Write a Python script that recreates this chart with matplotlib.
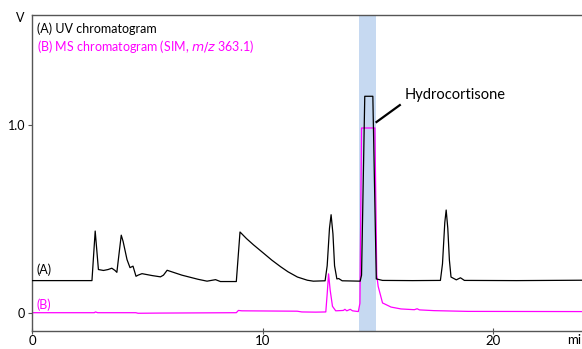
import matplotlib
matplotlib.use("Agg")
import matplotlib.pyplot as plt

plt.rcParams['font.family'] = ['Lato', 'DejaVu Sans']

#Trace (A) UV chromatogram (min, V)
uv_time = [0, 2.6, 2.74, 2.88, 3.1, 3.3, 3.46, 3.6, 3.68, 3.78, 3.87, 3.95, 4.12, 4.25, 4.38,
           4.51, 4.6, 4.77, 5.2, 5.57, 5.7, 5.86, 6.5, 7.2, 7.59, 7.96, 8.17, 8.86, 9.02,
           9.3, 9.6, 10.06, 10.4, 10.78, 11.1, 11.51, 11.94, 12.2, 12.71, 12.8, 12.9, 12.97,
           13.05, 13.12, 13.22, 13.3, 13.45, 14.23, 14.29, 14.43, 14.78, 14.93, 15.2, 16.5,
           17.71, 17.8, 17.9, 17.96, 18.03, 18.1, 18.17, 18.4, 18.58, 18.75, 21.0, 23.85]
uv_volt = [0.171, 0.171, 0.435, 0.23, 0.225, 0.23, 0.237, 0.225, 0.215, 0.32, 0.413, 0.38, 0.283, 0.24, 0.248,
           0.194, 0.2, 0.208, 0.198, 0.191, 0.2, 0.226, 0.2, 0.178, 0.168, 0.176, 0.166, 0.166, 0.43,
           0.395, 0.362, 0.315, 0.28, 0.245, 0.218, 0.19, 0.173, 0.168, 0.17, 0.25, 0.45, 0.522,
           0.42, 0.25, 0.18, 0.182, 0.17, 0.168, 0.2, 1.153, 1.153, 0.18, 0.172, 0.171,
           0.172, 0.26, 0.48, 0.547, 0.45, 0.28, 0.19, 0.175, 0.186, 0.172, 0.171, 0.173]

#Trace (B) MS chromatogram, SIM m/z 363.1
ms_time = [0, 2.7, 2.75, 2.85, 4.5, 4.6, 5.5, 8.86, 8.95, 9.1, 11.5, 11.7, 12.3, 12.74, 12.8,
           12.86, 12.93, 13.03, 13.17, 13.5, 13.57, 13.65, 13.8, 13.9, 14.15, 14.22, 14.29,
           14.87, 14.95, 15.01, 15.2, 15.57, 16.0, 16.58, 16.7, 16.8, 17.43, 18.9, 23.85]
ms_volt = [0.0, 0.0, 0.004, 0.0, 0.0, -0.003, -0.002, 0.0, 0.012, 0.01, 0.008, 0.004, 0.003, 0.004, 0.1,
           0.207, 0.12, 0.034, 0.01, 0.012, 0.018, 0.01, 0.018, 0.01, 0.006, 0.05, 0.984,
           0.984, 0.2, 0.141, 0.052, 0.03, 0.02, 0.016, 0.021, 0.015, 0.011, 0.007, 0.006]

#Hydrocortisone window
band_start = 14.17
band_end = 14.91

x_ticks = [0, 10, 20]
y_ticks = [0, 1.0]
y_tick_labels = ["0", "1.0"]

def main():
    fig = plt.figure(figsize=(5.82, 3.49), dpi=100)
    ax = fig.add_axes([32/582, 18/349, 1 - 32/582, 316/349])

    ax.axvspan(band_start, band_end, color="#c6d9f1", lw=0, zorder=0)
    ax.plot(ms_time, ms_volt, color="#ff00ff", lw=0.9, zorder=2)
    ax.plot(uv_time, uv_volt, color="black", lw=0.9, zorder=3)

    ax.set_xlim(0, 23.85)
    ax.set_ylim(-0.0975, 1.586)
    ax.set_xticks(x_ticks)
    ax.set_yticks(y_ticks)
    ax.set_yticklabels(y_tick_labels)

    for side in ["left", "bottom", "top"]:
        ax.spines[side].set_color("#555555")
        ax.spines[side].set_linewidth(1.0)
    ax.spines["right"].set_visible(False)
    ax.tick_params(axis="x", direction="inout", length=5, width=0.8, color="#555555",
                   labelsize=9.5, pad=0.5)
    ax.tick_params(axis="y", direction="out", length=3, width=0.8, color="#555555",
                   labelsize=9, pad=2)

    #axis unit labels, V sits left of the frame top, min is cut by the right edge
    ax.text(-0.022, 0.99, "V", transform=ax.transAxes, ha="center", va="center",
            fontsize=9, clip_on=False)
    ax.text(0.992, -0.0285, "min", transform=ax.transAxes, ha="center",
            va="center", fontsize=9.5, clip_on=False)

    #legend texts
    ax.text(0.2, 1.515, "(A) UV chromatogram", fontsize=9, va="center")
    ax.text(0.2, 1.42, "(B) MS chromatogram (SIM, $\\it{m/z}$ 363.1)", fontsize=9,
            va="center", color="#ff00ff")
    ax.text(0.2, 0.23, "(A)", fontsize=9, va="center")
    ax.text(0.2, 0.04, "(B)", fontsize=9, va="center", color="#ff00ff")

    #peak annotation
    ax.plot([14.94, 15.95], [1.016, 1.106], color="black", lw=1.6, zorder=4)
    ax.text(16.15, 1.162, "Hydrocortisone", fontsize=10.5, va="center")

    fig.savefig("out.png", dpi=100)

if(__name__ == '__main__'):
    main()
